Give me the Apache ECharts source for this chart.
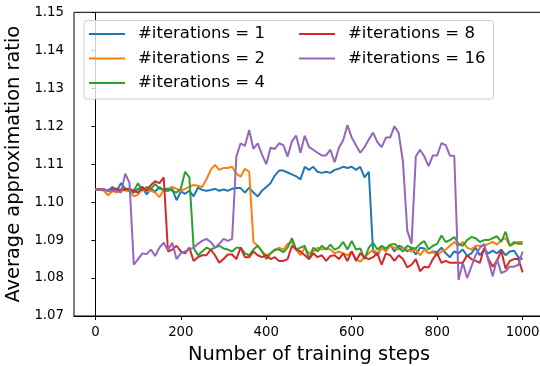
<!DOCTYPE html>
<html>
<head>
<meta charset="utf-8">
<script src="https://cdn.jsdelivr.net/npm/echarts@6/dist/echarts.min.js"></script>
<style>html,body{margin:0;padding:0;background:#fff;}#c{width:540px;height:366px;}</style>
</head>
<body>
<div id="c"></div>
<script>
const steps = Array.from({length: 101}, (_, i) => i * 10);
const xTicks = [0, 200, 400, 600, 800, 1000];
const yTicks = [1.07, 1.08, 1.09, 1.10, 1.11, 1.12, 1.13, 1.14, 1.15];
const seriesNames = ['#iterations = 1', '#iterations = 2', '#iterations = 4', '#iterations = 8', '#iterations = 16'];

const iter1 = [1.1033,1.1033,1.1033,1.1030,1.1040,1.1030,1.1050,1.1035,1.1030,1.1025,
1.1035,1.1040,1.1020,1.1035,1.1028,1.1040,1.1030,1.1030,1.1035,1.1005,
1.1028,1.1022,1.1030,1.1015,1.1038,1.1032,1.1030,1.1032,1.1035,1.1030,
1.1033,1.1030,1.1035,1.1037,1.1037,1.1025,1.1038,1.1025,1.1015,1.1030,
1.1040,1.1050,1.1070,1.1083,1.1083,1.1078,1.1073,1.1068,1.1060,1.1093,
1.1085,1.1093,1.1080,1.1077,1.1080,1.1077,1.1085,1.1088,1.1093,1.1090,
1.1093,1.1085,1.1093,1.1065,1.1080,1.0870,1.0860,1.0880,1.0875,1.0888,
1.0870,1.0885,1.0880,1.0870,1.0878,1.0862,1.0880,1.0878,1.0865,1.0870,
1.0868,1.0880,1.0865,1.0855,1.0870,1.0865,1.0875,1.0858,1.0865,1.0880,
1.0860,1.0875,1.0865,1.0872,1.0865,1.0875,1.0860,1.0870,1.0872,1.0855,1.0850];

const iter2 = [1.1033,1.1033,1.1030,1.1018,1.1030,1.1025,1.1035,1.1030,1.1030,1.1015,
1.1020,1.1035,1.1030,1.1030,1.1025,1.1013,1.1033,1.1035,1.1040,1.1035,
1.1030,1.1035,1.1040,1.1045,1.1043,1.1040,1.1060,1.1085,1.1098,1.1085,
1.1090,1.1090,1.1093,1.1075,1.1067,1.1088,1.1080,1.0895,1.0885,1.0870,
1.0860,1.0865,1.0873,1.0880,1.0875,1.0890,1.0895,1.0875,1.0860,1.0880,
1.0865,1.0870,1.0880,1.0875,1.0878,1.0875,1.0865,1.0870,1.0865,1.0860,
1.0870,1.0850,1.0843,1.0855,1.0865,1.0875,1.0865,1.0880,1.0870,1.0885,
1.0880,1.0875,1.0880,1.0875,1.0870,1.0875,1.0860,1.0875,1.0865,1.0868,
1.0860,1.0870,1.0875,1.0885,1.0895,1.0885,1.0895,1.0880,1.0875,1.0885,
1.0885,1.0885,1.0890,1.0895,1.0888,1.0900,1.0905,1.0885,1.0890,1.0895,1.0895];

const iter4 = [1.1033,1.1033,1.1033,1.1030,1.1035,1.1035,1.1030,1.1035,1.1030,1.1030,
1.1050,1.1030,1.1040,1.1035,1.1048,1.1035,1.1033,1.1035,1.1030,1.1025,
1.1035,1.1080,1.1065,1.0880,1.0860,1.0870,1.0880,1.0875,1.0880,1.0885,
1.0878,1.0875,1.0870,1.0880,1.0880,1.0865,1.0860,1.0875,1.0885,1.0870,
1.0850,1.0865,1.0875,1.0875,1.0868,1.0880,1.0905,1.0875,1.0880,1.0885,
1.0850,1.0880,1.0870,1.0885,1.0875,1.0888,1.0875,1.0880,1.0895,1.0875,
1.0898,1.0875,1.0878,1.0850,1.0880,1.0893,1.0875,1.0885,1.0878,1.0888,
1.0890,1.0880,1.0870,1.0885,1.0880,1.0878,1.0890,1.0897,1.0875,1.0885,
1.0890,1.0912,1.0895,1.0900,1.0908,1.0890,1.0885,1.0900,1.0908,1.0905,
1.0895,1.0900,1.0900,1.0905,1.0910,1.0895,1.0922,1.0885,1.0895,1.0890,1.0890];

const iter8 = [1.1033,1.1033,1.1033,1.1030,1.1033,1.1035,1.1030,1.1035,1.1035,1.1030,
1.1025,1.1040,1.1030,1.1045,1.1055,1.1050,1.1065,1.0870,1.0875,1.0885,
1.0870,1.0865,1.0880,1.0845,1.0855,1.0860,1.0860,1.0875,1.0860,1.0840,
1.0850,1.0862,1.0862,1.0850,1.0880,1.0855,1.0855,1.0870,1.0860,1.0855,
1.0860,1.0850,1.0855,1.0845,1.0845,1.0850,1.0885,1.0875,1.0870,1.0860,
1.0850,1.0865,1.0855,1.0860,1.0845,1.0858,1.0860,1.0850,1.0865,1.0845,
1.0870,1.0845,1.0865,1.0855,1.0850,1.0855,1.0865,1.0835,1.0865,1.0860,
1.0845,1.0860,1.0850,1.0828,1.0835,1.0850,1.0818,1.0830,1.0828,1.0850,
1.0865,1.0840,1.0845,1.0840,1.0840,1.0840,1.0840,1.0860,1.0850,1.0845,
1.0840,1.0880,1.0850,1.0830,1.0845,1.0872,1.0825,1.0845,1.0850,1.0850,1.0815];

const iter16 = [1.1033,1.1033,1.1033,1.1030,1.1030,1.1030,1.1025,1.1075,1.1050,1.0835,
1.0850,1.0865,1.0863,1.0875,1.0858,1.0880,1.0893,1.0873,1.0893,1.0850,
1.0865,1.0870,1.0875,1.0880,1.0890,1.0898,1.0903,1.0895,1.0880,1.0890,
1.0903,1.0898,1.0903,1.1120,1.1155,1.1148,1.1190,1.1140,1.1155,1.1125,
1.1100,1.1143,1.1140,1.1155,1.1150,1.1120,1.1160,1.1175,1.1130,1.1175,
1.1145,1.1138,1.1130,1.1123,1.1123,1.1138,1.1105,1.1143,1.1163,1.1203,
1.1170,1.1150,1.1130,1.1145,1.1165,1.1183,1.1158,1.1145,1.1170,1.1170,
1.1200,1.1182,1.1105,1.0925,1.0890,1.1120,1.1138,1.1120,1.1095,1.1123,
1.1123,1.1155,1.1150,1.1122,1.1122,1.0795,1.0840,1.0800,1.0830,1.0860,
1.0880,1.0890,1.0845,1.0805,1.0850,1.0813,1.0818,1.0830,1.0830,1.0835,1.0870];

const allData = [iter1, iter2, iter4, iter8, iter16];
const colors = ['#1f77b4', '#ff7f0e', '#2ca02c', '#d62728', '#9467bd'];

const chart = echarts.init(document.getElementById('c'), null, {renderer: 'canvas'});
const FONT = 'DejaVu Sans';

const legendCommon = {
  orient: 'vertical',
  icon: 'rect',
  itemWidth: 36,
  itemHeight: 2,
  itemGap: 0,
  padding: 0,
  z: 10,
  textStyle: {fontFamily: FONT, fontSize: 16.5, color: '#000', lineHeight: 24.5, padding: [0, 0, 0, 8]}
};

chart.setOption({
  animation: false,
  color: colors,
  grid: {left: 74, top: 12.3, width: 470, height: 303.7, outerBoundsMode: 'none', containLabel: false,
         show: true, borderColor: '#000', borderWidth: 1, backgroundColor: 'transparent'},
  graphic: [{
    type: 'rect', z: 5,
    shape: {x: 84, y: 20.5, width: 409.5, height: 78.5, r: 3},
    style: {fill: 'rgba(255,255,255,0.8)', stroke: '#cccccc', lineWidth: 1}
  }],
  legend: [
    Object.assign({}, legendCommon, {left: 89, top: 21.75, data: seriesNames.slice(0, 3)}),
    Object.assign({}, legendCommon, {left: 299, top: 21.75, data: seriesNames.slice(3)})
  ],
  xAxis: {
    type: 'value', min: -50, max: 1050,
    name: 'Number of training steps', nameLocation: 'middle', nameGap: 29,
    nameTextStyle: {fontFamily: FONT, fontSize: 19.4, color: '#000'},
    axisLine: {show: true, lineStyle: {color: '#000', width: 1}},
    axisTick: {show: true, length: 4, lineStyle: {color: '#000'}, customValues: xTicks},
    axisLabel: {fontFamily: FONT, fontSize: 13.3, color: '#000', margin: 10, customValues: xTicks, formatter: v => String(v)},
    splitLine: {show: false}
  },
  yAxis: {
    type: 'value', min: 1.07, max: 1.15, interval: 0.01,
    name: 'Average approximation ratio', nameLocation: 'middle', nameGap: 46,
    nameTextStyle: {fontFamily: FONT, fontSize: 19.4, color: '#000'},
    axisLine: {show: true, lineStyle: {color: '#000', width: 1}},
    axisTick: {show: true, length: 4, lineStyle: {color: '#000'}},
    axisLabel: {fontFamily: FONT, fontSize: 13.3, color: '#000', margin: 10, formatter: v => v.toFixed(2)},
    splitLine: {show: false}
  },
  series: allData.map((d, i) => ({
    name: seriesNames[i],
    type: 'line',
    data: steps.map((s, j) => [s, d[j]]),
    showSymbol: false,
    symbol: 'none',
    lineStyle: {width: 2, color: colors[i]},
    itemStyle: {color: colors[i]},
    z: 2 + i * 0.01
  }))
});
</script>
</body>
</html>
